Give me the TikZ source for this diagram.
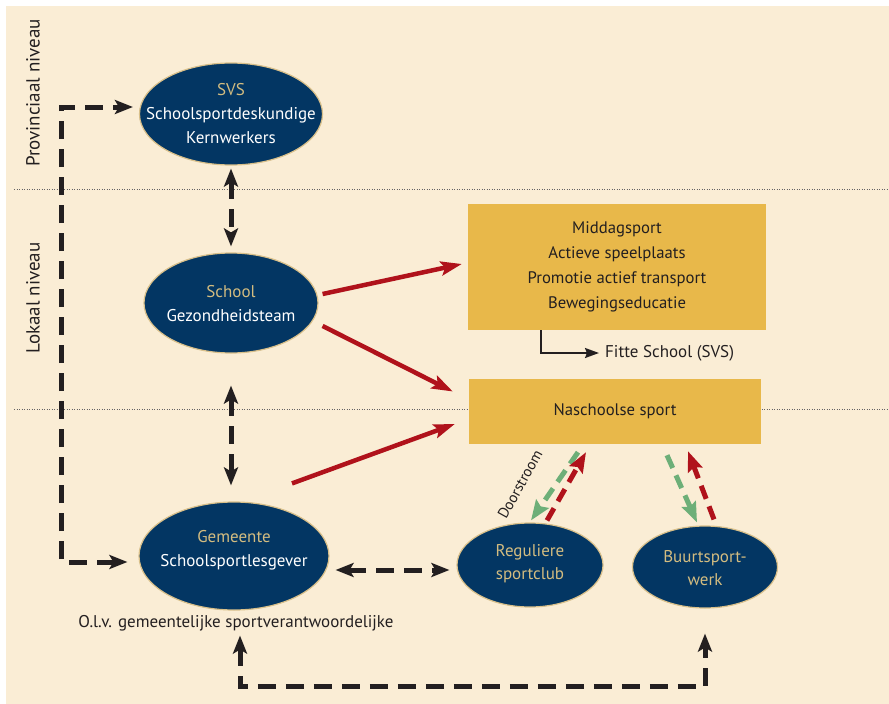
\documentclass[tikz,border=0pt]{standalone}
\usepackage{fontspec}
\setmainfont{PT Sans}
\usetikzlibrary{arrows.meta,shapes.geometric,calc}
\definecolor{cream}{HTML}{FAEDD5}
\definecolor{navy}{HTML}{033663}
\definecolor{goldtxt}{HTML}{D3BC80}
\definecolor{goldline}{HTML}{D9C08A}
\definecolor{boxfill}{HTML}{E8B84A}
\definecolor{darkred}{HTML}{B0121B}
\definecolor{grn}{HTML}{6DAF78}
\definecolor{ink}{HTML}{231F20}
\tikzset{
  ell/.style={ellipse, draw=goldline, line width=1.2pt, fill=navy, inner sep=0pt},
  elltext/.style={text=white, align=center, inner sep=0pt, font=\fontsize{17}{24}\selectfont},
  gbox/.style={rectangle, fill=boxfill, inner sep=0pt, text=ink, align=center, font=\fontsize{16.7}{25}\selectfont},
  lbl/.style={text=ink, inner sep=0pt, font=\fontsize{17}{20}\selectfont},
  sidelbl/.style={text=ink, inner sep=0pt, rotate=90, font=\fontsize{19}{20}\selectfont},
  btip/.tip={Stealth[length=18pt,width=14pt,inset=4pt]},
  rtip/.tip={Stealth[length=21pt,width=14pt,inset=4pt]},
  gtip/.tip={Stealth[length=20pt,width=15pt,inset=3pt]},
  blkarr/.style={draw=ink, line width=5pt, dash pattern=on 18pt off 10pt},
  redarr/.style={draw=darkred, line width=4.5pt, -rtip},
  grnarr/.style={draw=grn, line width=5pt, dash pattern=on 14pt off 8pt, -gtip},
  rdarr/.style={draw=darkred, line width=5pt, dash pattern=on 14pt off 8pt, -gtip},
  divider/.style={draw=ink!70, line width=1pt, dash pattern=on 1pt off 1.5pt},
}
\begin{document}
\begin{tikzpicture}[x=1pt,y=-1pt]
\useasboundingbox (0,0) rectangle (889,704);
\fill[white] (0,0) rectangle (889,704);
\fill[cream] (6,6) rectangle (889,704);
% level dividers
\draw[divider] (14,189) -- (889,189);
\draw[divider] (14,409) -- (889,409);
\node[sidelbl] (prov) at (33,93) {Provinciaal niveau};
\node[sidelbl] (lok) at (33,298) {Lokaal niveau};
% ellipses
\node[ell, minimum width=183pt, minimum height=102pt] (svs) at (231,114) {};
\node[elltext] (svsT) at (231,114) {\textcolor{goldtxt}{SVS}\\Schoolsportdeskundige\\Kernwerkers};
\node[ell, minimum width=174pt, minimum height=100pt] (school) at (231,303) {};
\node[elltext] (schoolT) at (231,304) {\textcolor{goldtxt}{School}\\Gezondheidsteam};
\node[ell, minimum width=190pt, minimum height=108pt] (gem) at (234,556) {};
\node[elltext] (gemT) at (234,550) {\textcolor{goldtxt}{Gemeente}\\Schoolsportlesgever};
\node[ell, minimum width=146pt, minimum height=84pt] (reg) at (530,565) {};
\node[elltext, text=goldtxt, font=\fontsize{17}{23}\selectfont] (regT) at (530,564) {Reguliere\\sportclub};
\node[ell, minimum width=145pt, minimum height=82pt] (buurt) at (705,567) {};
\node[elltext, text=goldtxt, font=\fontsize{17}{23}\selectfont] (buurtT) at (705,568) {Buurtsport-\\werk};
% boxes
\node[gbox, minimum width=298pt, minimum height=126pt] (box1) at (617,267) {Middagsport\\Actieve speelplaats\\Promotie actief transport\\Bewegingseducatie};
\node[gbox, minimum width=292pt, minimum height=65pt] (box2) at (615,411.5) {Naschoolse sport};
\node[lbl, anchor=west] (fitte) at (605,353) {Fitte School (SVS)};
\node[lbl] (olv) at (236,623) {O.l.v. gemeentelijke sportverantwoordelijke};
\node[lbl, font=\fontsize{15}{17}\selectfont, rotate=61] (door) at (520,484) {Doorstroom};
% black dashed connectors
\draw[blkarr, btip-btip] ($(svs.south)+(0,3)$) -- ($(school.north)+(0,-6)$);
\draw[blkarr, btip-btip] ($(school.south)+(0,32)$) -- ($(school.south |- gem.north)+(0,-16)$);
\draw[blkarr, btip-btip] ($(gem.west)+(-11,6)$) -- ++(-66,0) |- ($(svs.west)+(-6,-7)$);
\draw[blkarr, btip-btip] ($(gem.east)+(6,14)$) -- ($(reg.west)+(-7,5)$);
\draw[blkarr, btip-btip] ($(gem.south)+(6,25)$) |- ($(buurt.south)+(0,78)$) -- ($(buurt.south)+(0,25)$);
% red solid arrows
\draw[redarr] ($(school.east)+(4,-9)$) -- ($(box1.west)+(-6,-3)$);
\draw[redarr] ($(school.east)+(4,23)$) -- ($(box2.west)+(-16,-20)$);
\draw[redarr] ($(gem.north)+(58,-18)$) -- ($(box2.west)+(-14,12.5)$);
% doorstroom arrows
\draw[grnarr] ($(box2.south)+(-37,8)$) -- ($(reg.north)+(1,-2)$);
\draw[rdarr] ($(reg.north)+(17,-2)$) -- ($(box2.south)+(-29,8)$);
\draw[grnarr] ($(box2.south)+(52,11)$) -- ($(buurt.north)+(-8,-3)$);
\draw[rdarr] ($(buurt.north)+(9,-6)$) -- ($(box2.south)+(73,7)$);
% fitte school
\draw[draw=ink, line width=2pt, -{Stealth[length=14pt,width=10pt,inset=2pt]}] ($(box1.south)+(-76,0)$) |- ($(fitte.west)+(-6,0)$);
\end{tikzpicture}
\end{document}
